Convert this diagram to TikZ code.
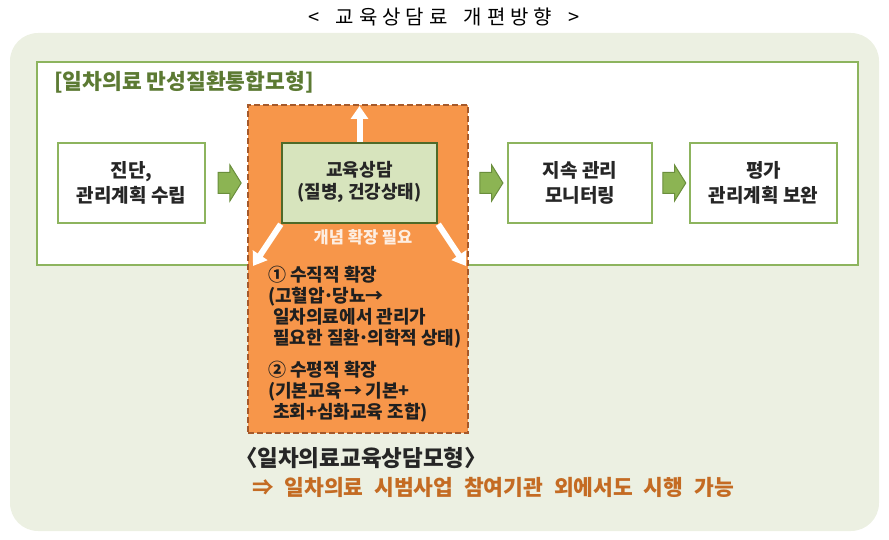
\documentclass[tikz,border=0pt]{standalone}
\usepackage{fontspec}
\setmainfont{Noto Sans CJK KR}
\newfontfamily\kr{Noto Sans CJK KR}[WordSpace=1.6]
\newfontfamily\krw{Noto Sans CJK KR}[WordSpace=2.2]
\newfontfamily\krn{Noto Sans CJK KR}
\usetikzlibrary{shapes.arrows,arrows.meta,calc}
\definecolor{bgc}{HTML}{ECF0E2}
\definecolor{wbord}{HTML}{8DB45E}
\definecolor{orangef}{HTML}{F7964A}
\definecolor{orangeb}{HTML}{A5592A}
\definecolor{gboxf}{HTML}{D7E4BD}
\definecolor{gboxb}{HTML}{4F6A28}
\definecolor{arrowf}{HTML}{8CB453}
\definecolor{arrowb}{HTML}{6A8E3C}
\definecolor{titlec}{HTML}{5C7A33}
\definecolor{finalc}{HTML}{C46B23}
\definecolor{notec}{HTML}{FDEEE2}
\newcommand{\mdot}{\kern-0.1em·\kern-0.1em}
\newcommand{\wsp}{\hspace{0.5em}}
\newcommand{\tk}{\kern5pt}
\tikzset{
  stepbox/.style={draw=wbord, line width=2pt, fill=white, minimum height=80pt,
    align=center, inner sep=0pt, font=\kr\bfseries\fontsize{19}{25}\selectfont, text=black!85},
  framebox/.style={draw=wbord, line width=2pt, fill=white, inner sep=0pt},
  orangebox/.style={draw=orangeb, fill=orangef, line width=2.5pt, dash pattern=on 6pt off 3pt, inner sep=0pt},
  greenbox/.style={draw=gboxb, fill=gboxf, line width=2.5pt, align=center, inner sep=0pt,
    font=\krn\bfseries\fontsize{18}{21}\selectfont, text=black!85},
  garrow/.style={single arrow, draw=arrowb, fill=arrowf, line width=1pt, minimum height=23pt,
    single arrow head extend=7.5pt, single arrow tip angle=116, inner sep=0pt},
  warrow/.style={draw=white, line width=6pt, -{Triangle[width=17pt,length=13pt]}},
}
\begin{document}
\begin{tikzpicture}[x=1pt,y=-1pt]
\useasboundingbox (0,0) rectangle (889,540);
% title
\node[font=\krn\fontsize{20}{22}\selectfont, inner sep=0pt] (title) at (444,17) {<\hspace{16pt}교\tk 육\tk 상\tk 담\tk 료\hspace{16pt}개\tk 편\tk 방\tk 향\hspace{16pt}>};
% background
\fill[bgc, rounded corners=28pt] (10,33) rectangle (879,531);
% white frame
\node[framebox, minimum width=821pt, minimum height=203pt] (frame) at (447.5,163.5) {};
\node[anchor=west, inner sep=0pt, font=\krn\bfseries\fontsize{21.5}{23}\selectfont, text=titlec] (frameT) at (54,82) {[일차의료 만성질환통합모형]};
% step boxes
\node[stepbox, minimum width=147pt] (b1) at (131.5,183) {진단,\\관리계획 수립};
\node[stepbox, minimum width=144pt] (b3) at (580,183) {지속 관리\\모니터링};
\node[stepbox, minimum width=147pt] (b4) at (763.5,183) {평가\\관리계획 보완};
% orange box
\node[orangebox, minimum width=220pt, minimum height=328pt] (org) at (358,269) {};
% green box
\node[greenbox, minimum width=155pt, minimum height=80pt] (g) at (359.5,183) {\raisebox{-3pt}{\begin{tabular}{@{}c@{}}교육상담\\(질병, 건강상태)\end{tabular}}};
% green block arrows
\node[garrow] (a1) at ($(b1.east)!0.5!(b1.east -| org.west)$) {\rule{0pt}{20pt}};
\node[garrow] (a2) at ($(b3.west -| org.east)!0.5!(b3.west)$) {\rule{0pt}{20pt}};
\node[garrow] (a3) at ($(b3.east)!0.5!(b4.west)$) {\rule{0pt}{20pt}};
% white arrows
\coordinate (upTip) at (359.5,106);
\coordinate (dlTip) at (253,266);
\coordinate (drTip) at (466,266);
\draw[warrow] (g.north) -- (upTip);
\draw[warrow] (g.south west) -- (dlTip);
\draw[warrow] (g.south east) -- (drTip);
\node[inner sep=0pt, font=\krw\bfseries\fontsize{16.5}{18}\selectfont, text=notec] (need) at (363,237) {개념 확장 필요};
% orange text
\node[anchor=north west, inner sep=0pt, align=left, font=\krw\bfseries\fontsize{18}{21}\selectfont, text=black!88] (ext) at (268,266)
{① 수직적 확장\\(고혈압\mdot 당뇨→\\\hspace{5pt}일차의료에서 관리가\\\hspace{5pt}필요한 질환\mdot 의학적 상태)\\[11pt]② 수평적 확장\\(기본교육\,→\,기본+\\\hspace{5pt}초회+심화교육 조합)};
% bottom texts
\node[inner sep=0pt, font=\krn\bfseries\fontsize{22.5}{24}\selectfont, text=black!85] (model) at (361,458) {〈일차의료교육상담모형〉};
\node[anchor=west, inner sep=0pt, font=\krn\bfseries\fontsize{21.5}{24}\selectfont, text=finalc] (final) at (252,487) {⇒\wsp 일차의료\wsp 시범사업\wsp 참여기관\wsp 외에서도\wsp 시행\wsp 가능};
\end{tikzpicture}
\end{document}
